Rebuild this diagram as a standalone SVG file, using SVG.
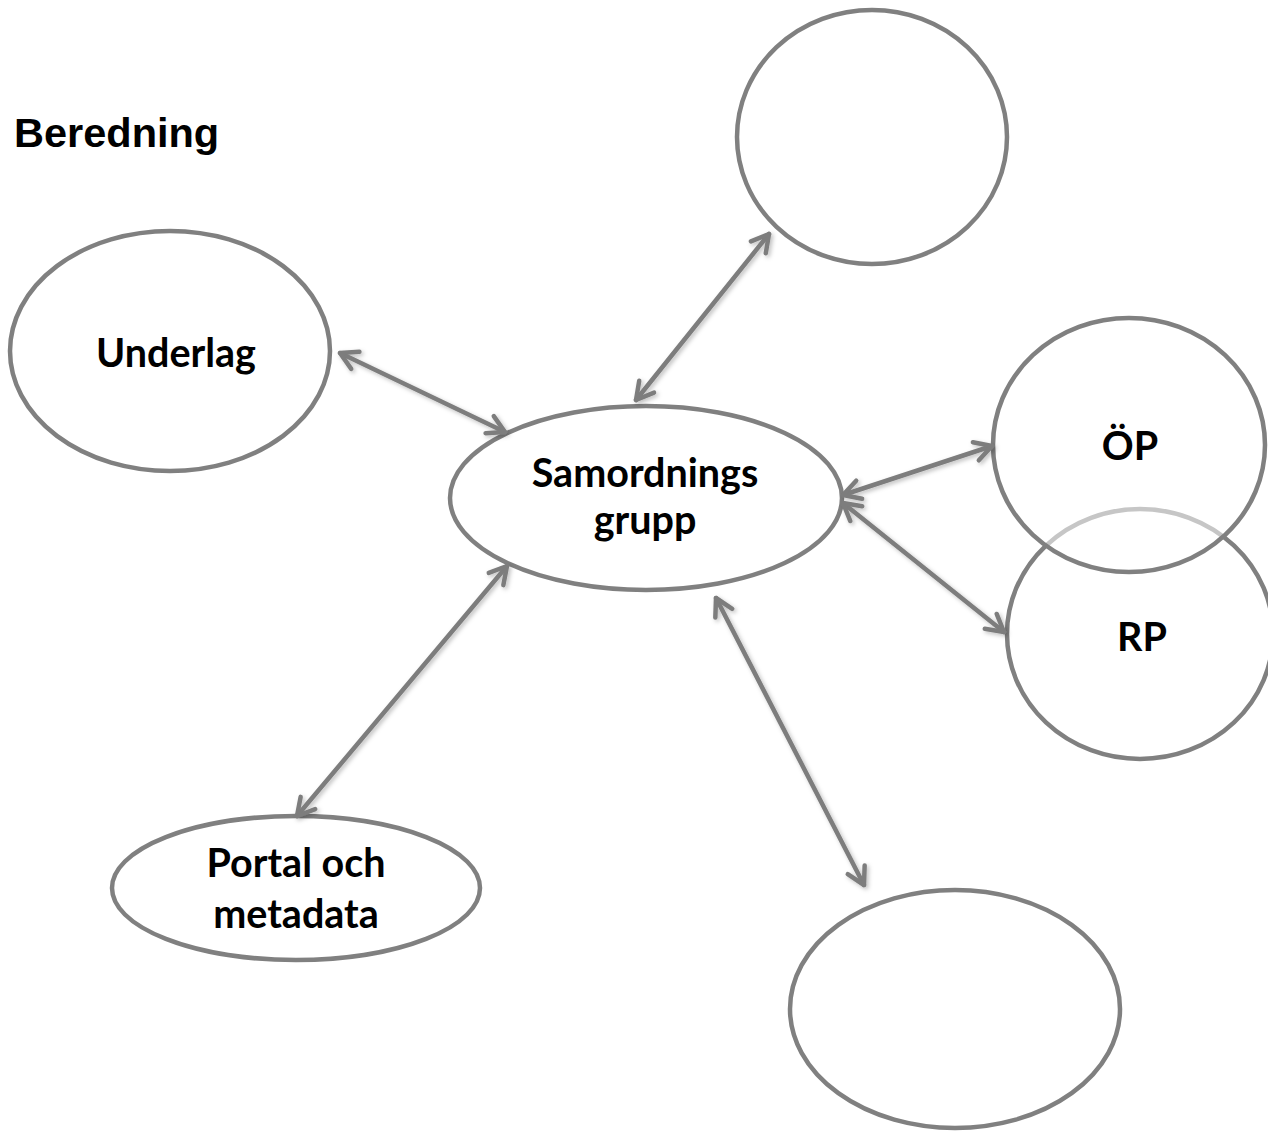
<svg xmlns="http://www.w3.org/2000/svg" width="1268" height="1132" viewBox="0 0 1268 1132">
<style>
.node{fill:#ffffff;stroke:#808080;stroke-width:4.5}
.lbl{font-family:Lato,"Open Sans","Liberation Sans",sans-serif;font-weight:bold;font-size:39.5px;fill:#000;text-anchor:middle}
.title{font-family:"Liberation Sans",Arial,sans-serif;font-weight:bold;font-size:41.5px;fill:#000}
.conn{stroke:#7d7d7d;stroke-width:4.5;fill:none;stroke-linecap:round;marker-start:url(#ah);marker-end:url(#ah)}
</style>
<defs>
<marker id="ah" markerUnits="userSpaceOnUse" viewBox="-24 -16 30 32" markerWidth="30" markerHeight="32" refX="0" refY="0" orient="auto-start-reverse">
<path d="M-17,-9.5 L0,0 L-17,9.5" fill="none" stroke="#7d7d7d" stroke-width="4.5" stroke-linecap="round" stroke-linejoin="round"/>
</marker>
<filter id="sh" x="-10%" y="-10%" width="120%" height="120%">
<feDropShadow dx="2" dy="2" stdDeviation="2" flood-color="#000" flood-opacity="0.25"/>
</filter>
</defs>
<rect width="1268" height="1132" fill="#ffffff"/>
<text class="title" x="14" y="147">Beredning</text>
<g id="n-top"><ellipse class="node" cx="872" cy="137" rx="135" ry="127"/></g>
<g id="n-underlag"><ellipse class="node" cx="170" cy="351" rx="160" ry="120"/><text class="lbl" x="176" y="367">Underlag</text></g>
<g id="n-rp"><ellipse class="node" cx="1140" cy="634" rx="133" ry="125"/><text class="lbl" x="1142" y="651">RP</text></g>
<g id="n-op"><ellipse class="node" cx="1129" cy="445" rx="136" ry="127" style="fill-opacity:0.55"/><text class="lbl" x="1130" y="460">ÖP</text></g>
<g id="n-samordning"><ellipse class="node" cx="646" cy="498" rx="196" ry="92"/><text class="lbl" x="645" y="487">Samordnings</text><text class="lbl" x="645" y="534">grupp</text></g>
<g id="n-portal"><ellipse class="node" cx="296" cy="888" rx="184" ry="72"/><text class="lbl" x="296" y="877">Portal och</text><text class="lbl" x="296" y="928">metadata</text></g>
<g id="n-bottom"><ellipse class="node" cx="955" cy="1009" rx="165" ry="119"/></g>
<g id="connectors" filter="url(#sh)">
<line class="conn" x1="340" y1="353" x2="505" y2="432"/>
<line class="conn" x1="769" y1="234" x2="636" y2="400"/>
<line class="conn" x1="507" y1="566" x2="297" y2="816"/>
<line class="conn" x1="716" y1="598" x2="864" y2="885"/>
<line class="conn" x1="843" y1="495" x2="992" y2="446"/>
<line class="conn" x1="843" y1="503" x2="1004" y2="632"/>
</g>
</svg>
